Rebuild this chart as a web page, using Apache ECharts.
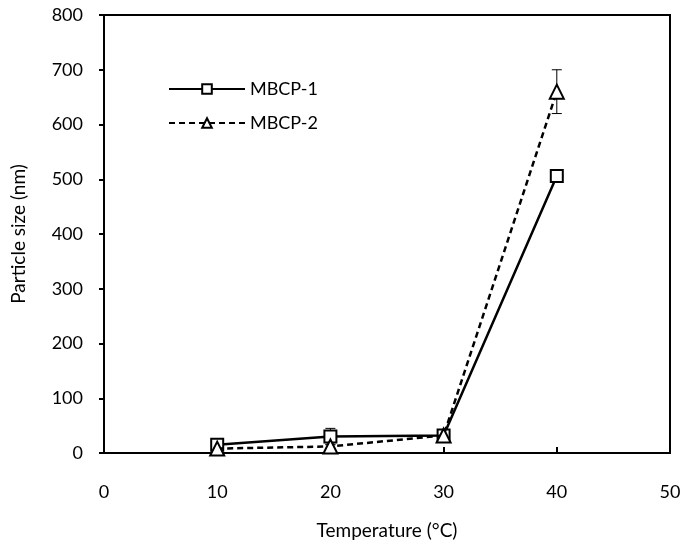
<!DOCTYPE html>
<html><head><meta charset="utf-8">
<script src="https://cdn.jsdelivr.net/npm/echarts@6/dist/echarts.min.js"></script>
<style>html,body{margin:0;padding:0;background:#fff}#c{width:698px;height:548px}</style>
</head><body><div id="c"></div>
<script>
var temps = [10, 20, 30, 40];
var mbcp1 = [15, 30, 32, 506];
var mbcp1Err = [3, 15, 3, 5];
var mbcp2 = [8, 12, 32, 660];
var mbcp2Err = [3, 4, 3, 40];
var xTicks = [0, 10, 20, 30, 40, 50];
var yTicks = [0, 100, 200, 300, 400, 500, 600, 700, 800];

var font = 'Lato';
function pairs(xs, ys){ return xs.map(function(x,i){return [x, ys[i]];}); }
function errData(xs, ys, es){ return xs.map(function(x,i){return [x, ys[i]-es[i], ys[i]+es[i]];}); }
function errSeries(name, data){
  return {
    type:'custom', name: name, data: data, z: 1, silent: true,
    renderItem: function(params, api){
      var lo = api.coord([api.value(0), api.value(1)]);
      var hi = api.coord([api.value(0), api.value(2)]);
      var w = 5;
      var st = {stroke:'#000', lineWidth:1};
      return {type:'group', children:[
        {type:'line', shape:{x1:lo[0],y1:lo[1],x2:hi[0],y2:hi[1]}, style:st},
        {type:'line', shape:{x1:hi[0]-w,y1:hi[1],x2:hi[0]+w,y2:hi[1]}, style:st},
        {type:'line', shape:{x1:lo[0]-w,y1:lo[1],x2:lo[0]+w,y2:lo[1]}, style:st}
      ]};
    }
  };
}
var chart = echarts.init(document.getElementById('c'));
chart.setOption({
  backgroundColor:'#fff',
  animation:false,
  grid:{left:104, right:28, top:15, bottom:95, show:true, borderColor:'#000', borderWidth:2, backgroundColor:'transparent', containLabel:false, outerBoundsMode:'none'},
  legend:{
    left:163, top:75, orient:'vertical', itemGap:16, itemWidth:76, itemHeight:12,
    textStyle:{fontFamily:font, fontSize:18, color:'#000'},
    data:['MBCP-1','MBCP-2']
  },
  xAxis:{
    type:'value', min:0, max:50, interval:10,
    name:'Temperature (\u00b0C)', nameLocation:'middle', nameGap:68,
    nameTextStyle:{fontFamily:font, fontSize:19, color:'#000'},
    axisLine:{lineStyle:{color:'#000', width:2}},
    axisTick:{show:true, inside:true, length:6, lineStyle:{color:'#000', width:2}},
    axisLabel:{fontFamily:font, fontSize:18, color:'#000', margin:30},
    splitLine:{show:false}
  },
  yAxis:{
    type:'value', min:0, max:800, interval:100,
    name:'Particle size (nm)', nameLocation:'middle', nameGap:76,
    nameTextStyle:{fontFamily:font, fontSize:19, color:'#000'},
    axisLine:{lineStyle:{color:'#000', width:2}},
    axisTick:{show:true, inside:false, length:5, lineStyle:{color:'#000', width:2}},
    axisLabel:{fontFamily:font, fontSize:18, color:'#000', margin:21},
    splitLine:{show:false}
  },
  series:[
    errSeries('err1', errData(temps, mbcp1, mbcp1Err)),
    errSeries('err2', errData(temps, mbcp2, mbcp2Err)),
    {
      name:'MBCP-1', type:'line', data:pairs(temps, mbcp1), z:3,
      symbol:'rect', symbolSize:12, showAllSymbol:true,
      lineStyle:{color:'#000', width:2.5, type:'solid'},
      itemStyle:{color:'#fff', borderColor:'#000', borderWidth:2}
    },
    {
      name:'MBCP-2', type:'line', data:pairs(temps, mbcp2), z:4,
      symbol:'triangle', symbolSize:14,
      lineStyle:{color:'#000', width:2.5, type:[6,4]},
      itemStyle:{color:'#fff', borderColor:'#000', borderWidth:2}
    }
  ]
});
</script></body></html>
